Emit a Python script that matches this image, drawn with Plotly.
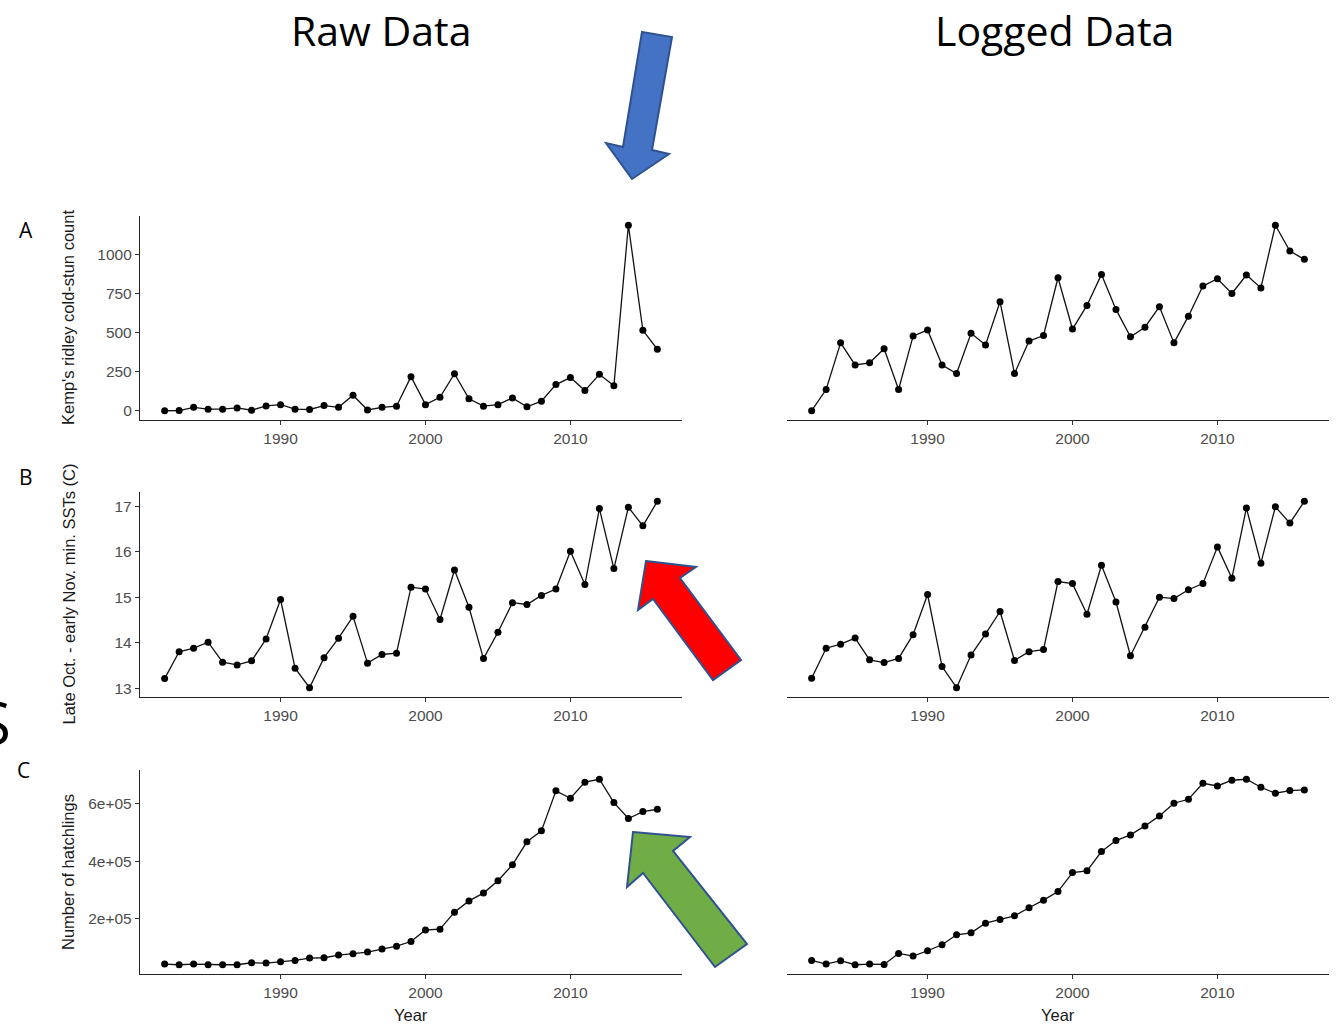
import plotly.graph_objects as go

# ---------------- data ----------------
years = list(range(1982, 2017))

coldstun_raw = [1, 2, 23, 11, 11, 19, 4, 32, 40, 11, 9, 34, 23, 100, 6, 23, 30,
                219, 40, 87, 238, 77, 30, 40, 83, 26, 62, 168, 213, 130, 234,
                160, 1187, 515, 394]
coldstun_log = [1.04, 1.73, 3.25, 2.53, 2.60, 3.06, 1.73, 3.47, 3.67, 2.53, 2.25,
                3.56, 3.18, 4.59, 2.25, 3.31, 3.49, 5.37, 3.70, 4.47, 5.48, 4.34,
                3.45, 3.76, 4.43, 3.25, 4.12, 5.10, 5.34, 4.86, 5.46, 5.04, 7.08,
                6.24, 5.97]

sst_raw = [13.21, 13.80, 13.88, 14.01, 13.57, 13.51, 13.60, 14.08, 14.95, 13.44,
           13.01, 13.67, 14.10, 14.58, 13.55, 13.74, 13.77, 15.22, 15.18, 14.51,
           15.60, 14.78, 13.65, 14.23, 14.88, 14.84, 15.04, 15.18, 16.01, 15.28,
           16.95, 15.63, 16.98, 16.57, 17.11]
sst_log = [2.580, 2.624, 2.630, 2.639, 2.607, 2.603, 2.609, 2.644, 2.703, 2.597,
           2.566, 2.614, 2.645, 2.678, 2.606, 2.619, 2.622, 2.722, 2.719, 2.674,
           2.746, 2.692, 2.613, 2.655, 2.699, 2.697, 2.710, 2.719, 2.773, 2.727,
           2.830, 2.749, 2.832, 2.808, 2.840]

hatch_raw = [42800, 40500, 42800, 40500, 40500, 40500, 47400, 46200, 50900, 55500,
             63600, 64700, 74000, 78600, 84400, 94800, 105000, 121000, 161000,
             164000, 223000, 262000, 289000, 332000, 387000, 467000, 505000,
             644000, 618000, 674000, 684000, 603000, 548000, 572000, 580000]
hatch_log = [10.675, 10.619, 10.670, 10.609, 10.619, 10.614, 10.781, 10.741, 10.822,
             10.913, 11.065, 11.096, 11.243, 11.299, 11.355, 11.477, 11.593, 11.725,
             12.015, 12.040, 12.334, 12.502, 12.588, 12.725, 12.878, 13.071, 13.131,
             13.375, 13.334, 13.421, 13.436, 13.314, 13.223, 13.263, 13.274]

year_ticks = [1990, 2000, 2010]
coldstun_ticks = [0, 250, 500, 750, 1000]
sst_ticks = [13, 14, 15, 16, 17]
hatch_ticks = [200000, 400000, 600000]
hatch_ticktext = ["2e+05", "4e+05", "6e+05"]

y_titles = ["Kemp's ridley cold-stun count",
            "Late Oct. - early Nov. min. SSTs (C)",
            "Number of hatchlings"]
panel_letters = ["A", "B", "C"]

# ---------------- layout helpers ----------------
W, H = 1339, 1025
def px(x):
    return x / W
def py(y):
    return 1 - y / H

rows_px = [(216, 420), (492, 697), (770, 974)]
cols_px = [(140, 682), (787, 1329)]

series = [
    (coldstun_raw, coldstun_log, coldstun_ticks, [str(t) for t in coldstun_ticks]),
    (sst_raw, sst_log, sst_ticks, [str(t) for t in sst_ticks]),
    (hatch_raw, hatch_log, hatch_ticks, hatch_ticktext),
]

def padded(vals, f=0.05):
    lo, hi = min(vals), max(vals)
    s = hi - lo
    return [lo - f * s, hi + f * s]

xr = padded(years)

fig = go.Figure()
layout = {}
annotations = []
tick_font = dict(family="Liberation Sans, Arial", size=15.5, color="#4d4d4d")
title_font = dict(family="Liberation Sans, Arial", size=16.5, color="#1a1a1a")

idx = 0
for r, (raw, logv, yt, ytt) in enumerate(series):
    for c, vals in enumerate([raw, logv]):
        idx += 1
        xa = "x" if idx == 1 else f"x{idx}"
        ya = "y" if idx == 1 else f"y{idx}"
        xkey = "xaxis" if idx == 1 else f"xaxis{idx}"
        ykey = "yaxis" if idx == 1 else f"yaxis{idx}"
        fig.add_trace(go.Scatter(
            x=years, y=vals, xaxis=xa, yaxis=ya, mode="lines+markers",
            line=dict(color="#111111", width=1.3),
            marker=dict(color="#000000", size=7),
            showlegend=False, hoverinfo="x+y"))
        x0, x1 = cols_px[c]
        top, bot = rows_px[r]
        layout[xkey] = dict(
            domain=[px(x0), px(x1)], range=xr, anchor=ya,
            tickvals=year_ticks, showgrid=False, zeroline=False,
            showline=True, linecolor="#222222", linewidth=1.3,
            ticks="outside", ticklen=4, tickcolor="#333333", tickwidth=1,
            tickfont=tick_font, fixedrange=True)
        yax = dict(
            domain=[py(bot), py(top)], range=padded(vals), anchor=xa,
            showgrid=False, zeroline=False, fixedrange=True)
        if c == 0:
            yax.update(showline=True, linecolor="#222222", linewidth=1.3,
                       ticks="outside", ticklen=4, tickcolor="#333333", tickwidth=1,
                       tickvals=yt, ticktext=ytt, tickfont=tick_font)
        else:
            yax.update(showline=False, showticklabels=False, ticks="")
        layout[ykey] = yax

    # y axis title
    top, bot = rows_px[r]
    annotations.append(dict(
        text=y_titles[r], x=px(68), y=py((top + bot) / 2), xref="paper", yref="paper",
        textangle=-90, showarrow=False, xanchor="center", yanchor="middle",
        font=title_font))

# panel letters
letter_pos = [(26, 230), (26, 477), (23, 770)]
for L, (lx, ly) in zip(panel_letters, letter_pos):
    annotations.append(dict(
        text=L, x=px(lx), y=py(ly), xref="paper", yref="paper", showarrow=False,
        xanchor="center", yanchor="middle",
        font=dict(family="Open Sans, Liberation Sans", size=21, color="#000000")))

# x titles
for c in range(2):
    x0, x1 = cols_px[c]
    annotations.append(dict(
        text="Year", x=px((x0 + x1) / 2), y=py(1015), xref="paper", yref="paper",
        showarrow=False, xanchor="center", yanchor="middle", font=title_font))

# column titles
annotations.append(dict(text="Raw Data", x=px(381), y=py(30), xref="paper", yref="paper",
                        showarrow=False, xanchor="center", yanchor="middle",
                        font=dict(family="Open Sans, Noto Sans", size=41, color="#000000")))
annotations.append(dict(text="Logged Data", x=px(1054), y=1, xref="paper", yref="paper",
                        showarrow=False, xanchor="center", yanchor="top",
                        font=dict(family="Open Sans, Noto Sans", size=41, color="#000000")))

# clipped large "S" at left edge (as in the reference)
annotations.append(dict(text="S", x=px(-6), y=py(722), xref="paper", yref="paper",
                        showarrow=False, xanchor="center", yanchor="middle",
                        font=dict(family="Open Sans, Noto Sans", size=60, color="#000000")))

# ---------------- arrows (decorative shapes) ----------------
def path(pts):
    return "M " + " L ".join(f"{px(x):.5f},{py(y):.5f}" for x, y in pts) + " Z"

blue_arrow = [(642, 32), (672, 37), (652, 150), (669, 154), (632, 179), (606, 143), (623, 147)]
red_arrow = [(646, 561), (696, 567), (680, 578), (741, 660), (713, 680), (653, 599), (638, 610)]
green_arrow = [(633, 832), (690, 837), (673, 851), (747, 944), (715, 967), (643, 873), (627, 887)]

shapes = []
for pts, fill in [(blue_arrow, "#4472C4"), (red_arrow, "#FF0000"), (green_arrow, "#70AD47")]:
    shapes.append(dict(type="path", path=path(pts), xref="paper", yref="paper",
                       fillcolor=fill, line=dict(color="#2F528F", width=2), layer="above"))

fig.update_layout(
    width=W, height=H, margin=dict(l=0, r=0, t=0, b=0),
    paper_bgcolor="white", plot_bgcolor="white",
    annotations=annotations, shapes=shapes, showlegend=False,
    **layout)

fig.write_html("out.html", config={"displayModeBar": False},
               post_script="document.body.style.margin='0';document.body.style.overflow='hidden';")
